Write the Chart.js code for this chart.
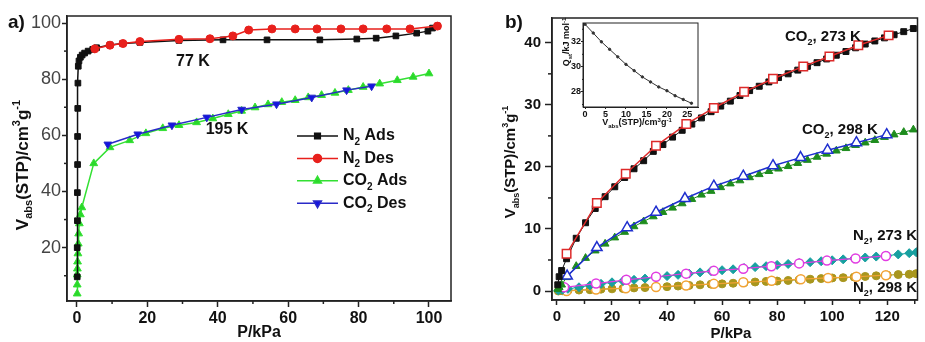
<!DOCTYPE html>
<html>
<head>
<meta charset="utf-8">
<script src="https://cdn.jsdelivr.net/npm/chart.js@4.4.0/dist/chart.umd.min.js"></script>
<style>
  body { margin: 0; background: #fff; width: 925px; height: 342px; overflow: hidden; position: relative; }
  canvas { position: absolute; }
</style>
</head>
<body>
<canvas id="chartA" width="465" height="342" style="left:0;top:0"></canvas>
<canvas id="chartB" width="460" height="342" style="left:465px;top:0"></canvas>
<canvas id="chartInset" width="150" height="120" style="left:555px;top:15px"></canvas>
<script>
// ---- panel a: 77 K N2 / 195 K CO2 ----
const n2AdsP = [0.1, 0.1, 0.15, 0.15, 0.2, 0.2, 0.25, 0.3, 0.4, 0.6, 1.0, 1.5, 2.2, 3.2, 4.5, 5.6, 9.4, 13, 17.9, 29, 41.5, 54, 69, 79.5, 85, 90.6, 96.5, 99.7, 101, 102.4];
const n2AdsV = [9.6, 20, 29.6, 39.6, 49.6, 59.6, 69.6, 78.6, 84.6, 86.5, 87.8, 88.6, 89.3, 90, 90.6, 91.2, 92.2, 92.7, 93.1, 93.8, 94, 94, 94, 94.3, 94.6, 95.4, 96.4, 97.1, 98.2, 98.9];
const n2DesP = [102.4, 94.6, 88, 81.3, 75, 68.2, 62, 55.4, 48.8, 44.3, 37.8, 29, 17.9, 13.1, 9.4, 5.1];
const n2DesV = [98.9, 97.9, 97.9, 97.9, 97.9, 97.9, 97.9, 97.9, 97.5, 95.4, 94.4, 94.2, 93.4, 92.7, 92.1, 90.8];
const co2AdsP = [0.1, 0.1, 0.1, 0.15, 0.2, 0.3, 0.4, 0.5, 0.7, 1.0, 1.4, 4.8, 9.4, 15, 19.6, 24.4, 29, 34, 38.6, 43, 46.8, 50.6, 54.3, 58.2, 62, 65.7, 69.5, 73.3, 77.1, 81.3, 86, 91, 95.5, 100];
const co2AdsV = [3.6, 6.8, 10.4, 12.5, 15, 17.9, 21.4, 25, 28.6, 31.8, 34.3, 50, 55.7, 58.2, 60.7, 62.5, 63.6, 64.6, 66, 67.5, 68.7, 69.9, 71, 71.8, 72.5, 73.5, 74.3, 75.1, 76.1, 77.2, 78.4, 79.6, 80.8, 82];
const co2DesP = [83.7, 76.6, 66.7, 56.7, 46.8, 36.9, 27, 17.3, 8.8];
const co2DesV = [77.5, 76.1, 73.5, 71.1, 69.2, 66.4, 63.6, 60.4, 56.8];
const aXTicks = [0, 20, 40, 60, 80, 100];
const aYTicks = [20, 40, 60, 80, 100];

// ---- panel b: 273 / 298 K ----
const co2Grid = [0.3, 0.8, 1.7, 3.5, 7, 10.4, 13.9, 17.5, 21, 24.6, 28, 31.5, 35, 38.5, 42, 45.5, 49, 52.5, 56, 59.5, 63, 66.5, 70, 73.5, 77, 80.5, 84, 87.5, 91, 94.5, 98, 101.5, 105, 108.5, 112, 115.5, 119, 122.5, 126, 129.5];
const co2Ads273 = [1.0, 2.3, 3.3, 5.2, 8.5, 11.0, 13.3, 15.2, 16.8, 18.3, 19.7, 21.0, 22.5, 23.6, 24.8, 25.9, 26.9, 27.9, 28.9, 29.8, 30.6, 31.5, 32.3, 33.0, 33.7, 34.4, 35.0, 35.6, 36.2, 36.8, 37.4, 38.0, 38.6, 39.2, 39.8, 40.3, 40.8, 41.3, 41.8, 42.3];
const co2Ads298 = [0.3, 0.6, 1.0, 2.2, 4.0, 5.3, 6.5, 7.6, 8.6, 9.5, 10.4, 11.2, 12.0, 12.7, 13.4, 14.1, 14.8, 15.5, 16.1, 16.7, 17.3, 17.8, 18.3, 18.8, 19.3, 19.7, 20.1, 20.6, 21.1, 21.6, 22.1, 22.6, 23.0, 23.5, 23.9, 24.3, 24.8, 25.2, 25.6, 26.0];
const co2Des273P = [3.5, 14.5, 25, 36, 47, 57, 68, 78.5, 89.5, 99, 109.5, 120.5];
const co2Des273V = [6.0, 14.2, 18.9, 23.4, 26.9, 29.5, 32.1, 34.2, 36.2, 37.8, 39.6, 41.2];
const co2Des298P = [3.7, 14.5, 25.5, 36, 46.5, 57, 67.7, 78.5, 88.5, 98.3, 108.8, 119.8];
const co2Des298V = [2.4, 7.0, 10.2, 12.7, 14.9, 16.9, 18.5, 20.2, 21.5, 22.7, 23.9, 25.2];
const n2Grid = [0.5, 2, 4, 8, 12, 16, 20, 24, 28, 32, 36, 40, 44, 48, 52, 56, 60, 64, 68, 72, 76, 80, 84, 88, 92, 96, 100, 104, 108, 112, 116, 120, 124, 128, 130.5];
const n2Ads273 = [0.1, 0.2, 0.35, 0.6, 0.9, 1.15, 1.4, 1.6, 1.8, 2.0, 2.2, 2.4, 2.6, 2.8, 3.0, 3.2, 3.35, 3.5, 3.7, 3.85, 4.0, 4.2, 4.35, 4.5, 4.65, 4.8, 4.95, 5.1, 5.25, 5.4, 5.55, 5.7, 5.9, 6.1, 6.25];
const n2Ads298 = [0.0, 0.05, 0.1, 0.15, 0.2, 0.3, 0.35, 0.4, 0.5, 0.55, 0.65, 0.7, 0.8, 0.9, 1.0, 1.1, 1.15, 1.25, 1.35, 1.45, 1.55, 1.6, 1.7, 1.8, 1.9, 2.0, 2.1, 2.15, 2.25, 2.35, 2.45, 2.55, 2.65, 2.7, 2.8];
const n2Des273P = [2.6, 14.2, 25.2, 36, 46.9, 57, 67.7, 77.9, 88, 98.1, 108.5, 119.5];
const n2Des273V = [0.6, 1.2, 1.8, 2.3, 2.8, 3.25, 3.6, 4.0, 4.45, 4.9, 5.25, 5.65];
const n2Des298P = [3.5, 14.2, 25, 36, 46.9, 57, 67.7, 78, 88.6, 98.5, 108.8, 119.5];
const n2Des298V = [0.0, 0.25, 0.45, 0.65, 0.9, 1.15, 1.4, 1.65, 1.9, 2.1, 2.3, 2.55];
const bXTicks = [0, 20, 40, 60, 80, 100, 120];
const bYTicks = [0, 10, 20, 30, 40];

// ---- inset: isosteric heat ----
const qstV = [0, 2, 4, 6, 8, 10, 12, 14, 16, 18, 20, 22, 24, 26];
const qstQ = [33.4, 32.7, 32.0, 31.4, 30.8, 30.2, 29.7, 29.2, 28.8, 28.4, 28.1, 27.7, 27.4, 27.1];
const inXTicks = [0, 5, 10, 15, 20, 25];
const inYTicks = [28, 30, 32];

const FAM = "'Liberation Sans', Arial, Helvetica, sans-serif";

const pts = (xs, ys) => xs.map((x, i) => ({ x, y: ys[i] }));

function series(xs, ys, s) {
  return Object.assign({
    data: pts(xs, ys), showLine: true, tension: 0, borderWidth: 1.5,
    pointBorderWidth: 1, pointHoverRadius: 0
  }, s);
}

// subscript digits that follow a capital letter (N2, CO2)
function chem(str) {
  const parts = [];
  let buf = '';
  for (let i = 0; i < str.length; i++) {
    const c = str[i];
    if (/\d/.test(c) && i > 0 && /[A-Z]/.test(str[i - 1])) {
      if (buf) parts.push([buf, 0]);
      buf = '';
      parts.push([c, -1]);
    } else buf += c;
  }
  if (buf) parts.push([buf, 0]);
  return parts;
}

// text with sub/superscripts
function rich(ctx, parts, x, y, size, o = {}) {
  const weight = o.weight || 'bold';
  const small = Math.round(size * 0.62);
  let total = 0;
  const segs = parts.map(([t, k]) => {
    const s = k ? small : size;
    ctx.font = `${weight} ${s}px ${FAM}`;
    const w = ctx.measureText(t).width;
    total += w;
    return { t, k, s, w };
  });
  ctx.save();
  ctx.translate(x, y);
  if (o.rot) ctx.rotate(o.rot);
  ctx.fillStyle = o.color || '#111';
  ctx.textBaseline = 'middle';
  ctx.textAlign = 'left';
  let cx = o.align === 'left' ? 0 : o.align === 'right' ? -total : -total / 2;
  segs.forEach(g => {
    ctx.font = `${weight} ${g.s}px ${FAM}`;
    const dy = g.k < 0 ? size * 0.38 : g.k > 0 ? -size * 0.34 : 0;
    ctx.fillText(g.t, cx, dy);
    cx += g.w;
  });
  ctx.restore();
}

const near = (arr, v) => arr.some(l => Math.abs(l - v) < 1e-6);

function axis(o) {
  return {
    type: 'linear', min: o.min, max: o.max,
    afterFit(s) { if (o.w != null) s.width = o.w; if (o.h != null) s.height = o.h; },
    border: { display: true, color: '#222', width: o.bw || 1.5 },
    grid: {
      drawOnChartArea: false, tickLength: o.tl, tickWidth: o.bw || 1.5,
      tickColor: c => (c.tick && near(o.labels, c.tick.value)) ? '#222' : 'rgba(0,0,0,0)'
    },
    ticks: {
      stepSize: o.step, includeBounds: false, autoSkip: false, maxRotation: 0, minRotation: 0,
      padding: o.pad, color: o.color || '#111', font: o.font,
      callback: v => near(o.labels, v) ? String(v) : ''
    }
  };
}

// box around the plot, short minor ticks, optional white fill
function makeFrame(cfg) {
  return {
    id: 'frame',
    beforeDraw(chart) {
      if (!cfg.fill) return;
      const { ctx, chartArea: a } = chart;
      ctx.save();
      ctx.fillStyle = cfg.fill;
      ctx.fillRect(a.left, a.top, a.width, a.height);
      ctx.restore();
    },
    afterDraw(chart) {
      const { ctx, chartArea: a } = chart;
      ctx.save();
      ctx.strokeStyle = '#222';
      ctx.lineWidth = cfg.width;
      ctx.strokeRect(a.left, a.top, a.width, a.height);
      ['x', 'y'].forEach(id => {
        const s = chart.scales[id];
        s.ticks.forEach(t => {
          if (near(cfg[id], t.value)) return;
          const p = s.getPixelForValue(t.value);
          ctx.beginPath();
          if (id === 'x') { ctx.moveTo(p, a.bottom); ctx.lineTo(p, a.bottom + cfg.minor); }
          else { ctx.moveTo(a.left, p); ctx.lineTo(a.left - cfg.minor, p); }
          ctx.stroke();
        });
      });
      ctx.restore();
    }
  };
}

const vTitle = [['V', 0], ['abs', -1], ['(STP)/cm', 0], ['3', 1], ['g', 0], ['-1', 1]];

// ---------- panel a ----------
const aSets = [
  series(n2AdsP, n2AdsV, { label: 'N2 Ads', borderColor: '#111', backgroundColor: '#111', pointStyle: 'rect', pointRadius: 4, order: 2 }),
  series(n2DesP, n2DesV, { label: 'N2 Des', borderColor: '#e8201c', backgroundColor: '#e8201c', pointStyle: 'circle', pointRadius: 4, order: 1 }),
  series(co2AdsP, co2AdsV, { label: 'CO2 Ads', borderColor: '#33e033', backgroundColor: '#2ad82a', pointStyle: 'triangle', pointRadius: 4.5, order: 4 }),
  series(co2DesP, co2DesV, { label: 'CO2 Des', borderColor: '#2a2ac8', backgroundColor: '#1414e0', pointStyle: 'triangle', pointRotation: 180, pointRadius: 4.5, order: 3 })
];

new Chart(document.getElementById('chartA'), {
  type: 'scatter',
  data: { datasets: aSets },
  options: {
    responsive: false, animation: false, events: [],
    layout: { padding: { left: 0, top: 16, right: 14, bottom: 0 } },
    plugins: { legend: { display: false }, tooltip: { enabled: false } },
    scales: {
      x: axis({ min: -2.8, max: 106.25, step: 10, labels: aXTicks, h: 41, tl: 6, pad: 2,
                font: { family: FAM, size: 16, weight: 'bold' } }),
      y: axis({ min: 1, max: 102.5, step: 10, labels: aYTicks, w: 67, tl: 5, pad: 1, color: '#444',
                font: { family: FAM, size: 18 } })
    }
  },
  plugins: [
    makeFrame({ x: aXTicks, y: aYTicks, minor: 3, width: 1.5 }),
    {
      id: 'textA',
      afterDraw(chart) {
        const ctx = chart.ctx;
        rich(ctx, [['a)', 0]], 8, 23, 19, { align: 'left' });
        rich(ctx, vTitle, 23, 165, 17, { rot: -Math.PI / 2 });
        rich(ctx, [['P/kPa', 0]], 259, 333, 16);
        rich(ctx, [['77 K', 0]], 193, 62, 16);
        rich(ctx, [['195 K', 0]], 227, 130, 16);
        // legend: line + marker + label
        aSets.forEach((ds, i) => {
          const y = 136 + i * 22.4;
          ctx.save();
          ctx.strokeStyle = ds.borderColor;
          ctx.lineWidth = 1.5;
          ctx.beginPath(); ctx.moveTo(297, y); ctx.lineTo(338, y); ctx.stroke();
          ctx.fillStyle = ds.backgroundColor;
          Chart.helpers.drawPoint(ctx, { pointStyle: ds.pointStyle, rotation: ds.pointRotation || 0,
            radius: ds.pointRadius, borderWidth: 1 }, 317.5, y);
          ctx.restore();
          rich(ctx, chem(ds.label), 343, y, 16, { align: 'left' });
        });
      }
    }
  ]
});

// ---------- panel b ----------
const bSets = [
  series(co2Des273P, co2Des273V, { label: 'CO2, 273 K des', borderColor: '#dd2a2a', backgroundColor: '#fff', pointStyle: 'rect', pointRadius: 6, pointBorderWidth: 1.5, order: 1 }),
  series(co2Grid, co2Ads273, { label: 'CO2, 273 K', borderColor: '#111', backgroundColor: '#111', pointStyle: 'rect', pointRadius: 4.2, borderWidth: 1, order: 2 }),
  series(co2Des298P, co2Des298V, { label: 'CO2, 298 K des', borderColor: '#1f2fcf', backgroundColor: '#fff', pointStyle: 'triangle', pointRadius: 6, pointBorderWidth: 1.5, order: 3 }),
  series(co2Grid, co2Ads298, { label: 'CO2, 298 K', borderColor: '#1e8c1e', backgroundColor: '#1e8c1e', pointStyle: 'triangle', pointRadius: 4.5, borderWidth: 1, order: 4 }),
  series(n2Des273P, n2Des273V, { label: 'N2, 273 K des', borderColor: '#e23ce2', backgroundColor: '#fff', pointStyle: 'circle', pointRadius: 4.5, pointBorderWidth: 1.5, borderWidth: 1.2, order: 5 }),
  series(n2Grid, n2Ads273, { label: 'N2, 273 K', borderColor: '#17a0a0', backgroundColor: '#17a0a0', pointStyle: 'rectRot', pointRadius: 4.5, borderWidth: 1, order: 6 }),
  series(n2Des298P, n2Des298V, { label: 'N2, 298 K des', borderColor: '#f2a335', backgroundColor: '#fff', pointStyle: 'circle', pointRadius: 4.5, pointBorderWidth: 1.5, borderWidth: 1.2, order: 7 }),
  series(n2Grid, n2Ads298, { label: 'N2, 298 K', borderColor: '#a8961e', backgroundColor: '#a8961e', pointStyle: 'circle', pointRadius: 4, borderWidth: 1, order: 8 })
];

new Chart(document.getElementById('chartB'), {
  type: 'scatter',
  data: { datasets: bSets },
  options: {
    responsive: false, animation: false, events: [],
    layout: { padding: { left: 0, top: 18, right: 2, bottom: 0 } },
    plugins: { legend: { display: false }, tooltip: { enabled: false } },
    scales: {
      x: axis({ min: -1.8, max: 131, step: 10, labels: bXTicks, h: 42, tl: 5, pad: 3,
                font: { family: FAM, size: 15, weight: 'bold' } }),
      y: axis({ min: -1.45, max: 44, step: 5, labels: bYTicks, w: 87, tl: 7, pad: 4,
                font: { family: FAM, size: 15, weight: 'bold' } })
    }
  },
  plugins: [
    makeFrame({ x: bXTicks, y: bYTicks, minor: 4, width: 1.5 }),
    {
      id: 'textB',
      afterDraw(chart) {
        const ctx = chart.ctx;
        const ox = 465;
        rich(ctx, [['b)', 0]], 505 - ox, 23, 19, { align: 'left' });
        rich(ctx, vTitle, 511 - ox, 162, 15, { rot: -Math.PI / 2 });
        rich(ctx, [['P/kPa', 0]], 731 - ox, 334, 15);
        rich(ctx, chem('CO2, 273 K'), 785 - ox, 37, 15, { align: 'left' });
        rich(ctx, chem('CO2, 298 K'), 802 - ox, 130, 15, { align: 'left' });
        rich(ctx, chem('N2, 273 K'), 853 - ox, 236, 15, { align: 'left' });
        rich(ctx, chem('N2, 298 K'), 853 - ox, 288, 15, { align: 'left' });
      }
    }
  ]
});

// ---------- inset ----------
new Chart(document.getElementById('chartInset'), {
  type: 'scatter',
  data: {
    datasets: [series(qstV, qstQ, { label: 'Qst', borderColor: '#333', backgroundColor: '#333',
      pointStyle: 'circle', pointRadius: 1.2, borderWidth: 1 })]
  },
  options: {
    responsive: false, animation: false, events: [],
    layout: { padding: { left: 0, top: 8, right: 7, bottom: 0 } },
    plugins: { legend: { display: false }, tooltip: { enabled: false } },
    scales: {
      x: axis({ min: -0.5, max: 27.6, step: 5, labels: inXTicks, h: 28, tl: 2, pad: 0, bw: 1,
                font: { family: FAM, size: 9, weight: 'bold' } }),
      y: axis({ min: 26.8, max: 33.5, step: 1, labels: inYTicks, w: 28, tl: 2, pad: 0, bw: 1,
                font: { family: FAM, size: 9, weight: 'bold' } })
    }
  },
  plugins: [
    makeFrame({ x: inXTicks, y: inYTicks, minor: 1, width: 1, fill: '#fff' }),
    {
      id: 'textInset',
      afterDraw(chart) {
        const ctx = chart.ctx;
        rich(ctx, [['Q', 0], ['st', -1], ['/kJ mol', 0], ['-1', 1]], 567 - 555, 42 - 15, 9, { rot: -Math.PI / 2 });
        rich(ctx, vTitle, 637 - 555, 123 - 15, 9);
      }
    }
  ]
});
</script>
</body>
</html>
